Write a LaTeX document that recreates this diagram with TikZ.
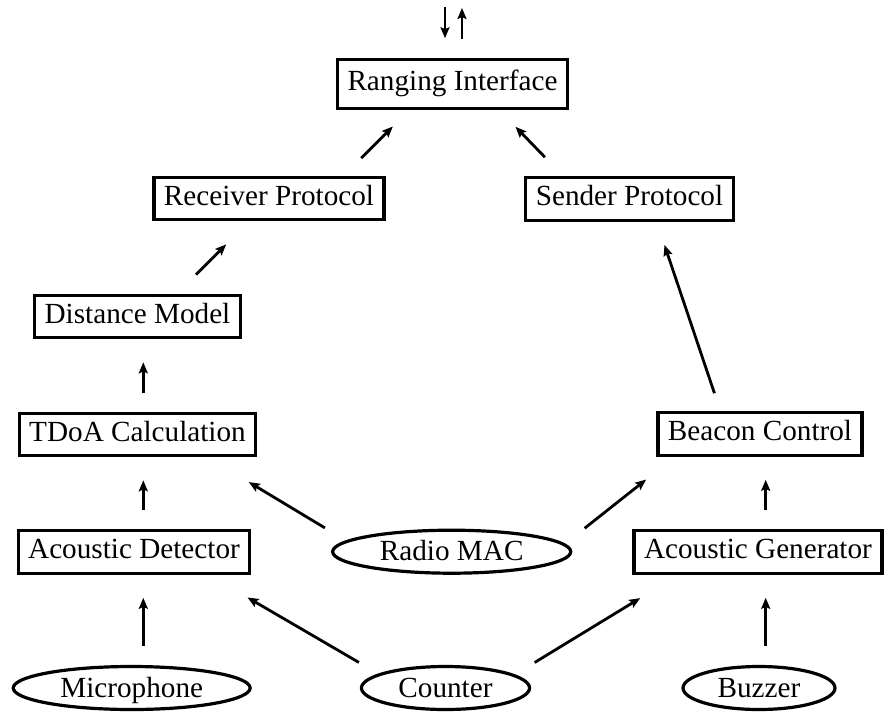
\documentclass[tikz,border=0pt]{standalone}
\usepackage{fontspec}
\setmainfont{Liberation Serif}
\usetikzlibrary{arrows.meta,shapes.geometric,calc}

\tikzset{
  box/.style={draw,rectangle,line width=1.6pt,minimum height=21.2pt,inner xsep=5pt,
    text height=9.8pt,text depth=3.3pt,font=\fontsize{14.6}{17}\selectfont},
  oval/.style={draw,ellipse,line width=1.6pt,minimum height=21.5pt,inner xsep=6.2pt,inner ysep=0pt,
    text height=10pt,text depth=1pt,font=\fontsize{14.6}{17}\selectfont},
  arr/.style={-{Stealth[length=5.5pt,width=4.5pt,inset=1pt]},line width=1.4pt},
  vert/.style={arr,shorten <=9.5pt,shorten >=11.5pt}
}

\begin{document}
\begin{tikzpicture}[x=0.5pt,y=-0.5pt]
\useasboundingbox (0,0) rectangle (885,713);
% boxes
\node[box,minimum height=24.2pt] (ri) at (452.5,84) {Ranging Interface};
\node[box] (rp) at (269,198.5) {Receiver Protocol};
\node[box] (sp) at (629.5,199) {Sender Protocol};
\node[box] (dm) at (137.5,316.5) {Distance Model};
\node[box] (tdoa) at (137.5,434.5) {TDoA Calculation};
\node[box] (bc) at (760,434) {Beacon Control};
\node[box] (ad) at (134,552) {Acoustic Detector};
\node[box] (ag) at (758,552) {Acoustic Generator};
% ovals
\node[oval] (radio) at (451.7,551.7) {Radio MAC};
\node[oval] (mic) at (131.7,688) {Microphone};
\node[oval] (cnt) at (445.5,688) {Counter};
\node[oval] (buz) at (759,688) {Buzzer};
% columns of the vertical arrows
\coordinate (lcol) at (143.3,0);
\coordinate (rcol) at (765.7,0);
\coordinate (extin) at (445,7);
\coordinate (extout) at (462,8);
% arrows
\draw[arr,shorten >=10pt] (extin) -- (extin |- ri.north);
\draw[arr,shorten <=9.5pt] (extout |- ri.north) -- (extout);
\draw[vert] (mic.north -| lcol) -- (ad.south -| lcol);
\draw[vert] (ad.north -| lcol) -- (tdoa.south -| lcol);
\draw[vert] (tdoa.north -| lcol) -- (dm.south -| lcol);
\draw[vert] (buz.north -| rcol) -- (ag.south -| rcol);
\draw[vert] (ag.north -| rcol) -- (bc.south -| rcol);
\draw[arr,shorten <=13.5pt,shorten >=16.3pt] (dm.30) -- (rp.-131);
\draw[arr,shorten <=12.5pt,shorten >=11.8pt] (rp.17) -- (ri.-149);
\draw[arr,shorten <=13.2pt,shorten >=11.8pt] (sp.161) -- (ri.-29);
\draw[arr,shorten <=9.5pt,shorten >=12.2pt] (bc.150) -- (sp.-40);
\draw[arr,shorten <=12.3pt,shorten >=24pt] (radio.174) -- (tdoa.-18);
\draw[arr,shorten <=12.5pt,shorten >=18.3pt] (radio.4) -- (bc.195);
\draw[arr,shorten <=11.2pt,shorten >=22.5pt] (cnt.168) -- (ad.-17);
\draw[arr,shorten <=11.5pt,shorten >=22.4pt] (cnt.11) -- (ag.196);
\end{tikzpicture}
\end{document}
